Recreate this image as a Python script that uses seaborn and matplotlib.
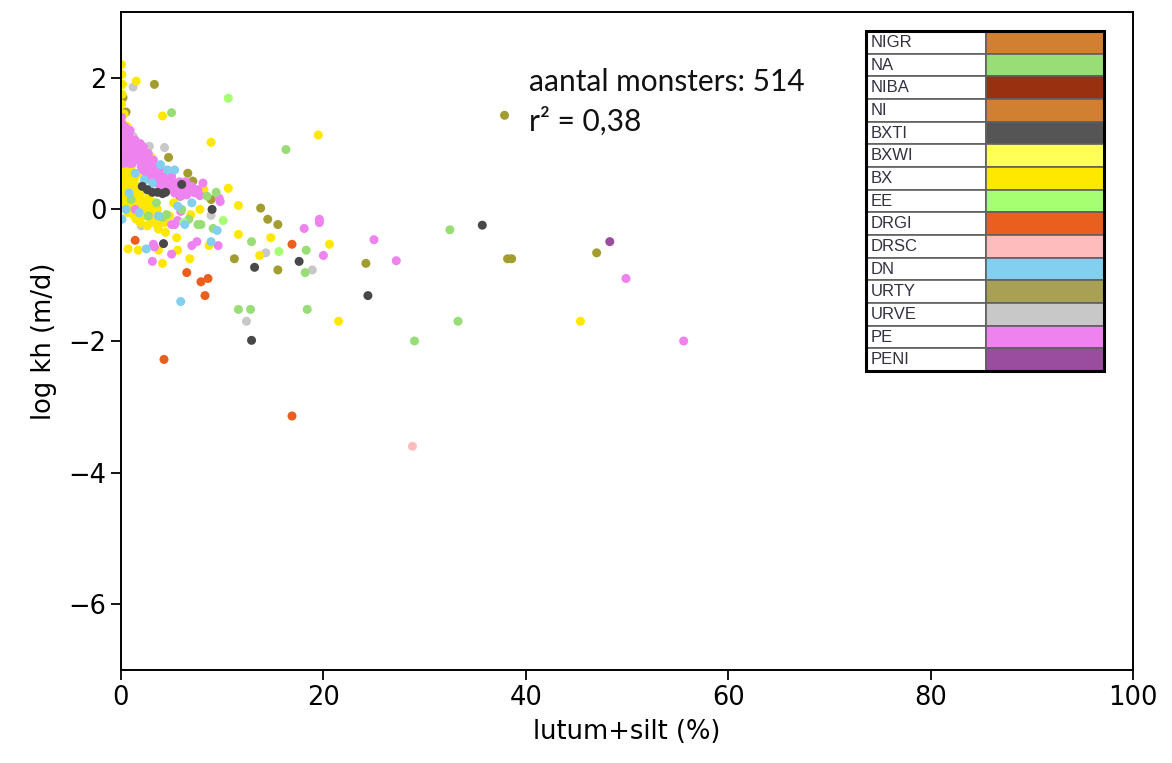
import matplotlib
matplotlib.use("Agg")
import matplotlib.pyplot as plt
import seaborn as sns
import pandas as pd
from matplotlib.patches import Rectangle

# ---------------- data ----------------
legend_names = ["NIGR", "NA", "NIBA", "NI", "BXTI", "BXWI", "BX", "EE",
                "DRGI", "DRSC", "DN", "URTY", "URVE", "PE", "PENI"]
legend_colors = ["#D08030", "#99DD77", "#993010", "#D08030", "#555555",
                 "#FFFF55", "#FFE800", "#A6FF70", "#EB5F1E", "#FFBCBC",
                 "#82CFEF", "#A8A055", "#C8C8C8", "#EE82EE", "#9A4C9E"]

bx_x = [0.05, 0.1, 0.15, 0.1, 0.05, 0.3, 0.6, 0.2, 0.1, 0.3, 0.2, 0.4, 0.1, 0.5, 0.2, 0.3, 0.6,
        1.5, 4.1, 8.9, 19.5, 3.0,
        0.8, 1.0, 1.3, 0.7, 1.1, 1.6, 1.9, 0.9, 1.4, 2.0, 2.4, 1.2, 1.7, 2.6, 3.0, 3.4, 2.2, 1.0,
        0.6, 3.6, 2.8, 2.3, 3.2, 3.9, 2.9, 1.5, 4.1, 5.2, 4.8,
        0.5, 0.8, 1.2, 1.5, 0.4, 0.8, 1.8, 2.5, 2.2, 2.8, 3.3, 1.3, 0.7, 1.9, 2.6, 3.6, 4.3, 3.1,
        0.3, 0.6, 1.0, 0.2, 0.4, 0.2, 1.4, 1.7, 2.4, 0.5, 0.4,
        0.7, 1.7, 3.7, 4.1, 5.6, 6.8, 8.7, 3.7, 4.4, 5.5, 6.9, 7.8, 8.2, 10.6, 11.6, 11.6, 13.7,
        14.8, 20.6, 21.5, 45.4]
bx_y = [2.2, 2.05, 1.9, 1.75, 1.6, 1.45, 1.26, 1.05, 0.9, 0.8, 0.65, 0.5, 0.4, 0.3, 0.2, 0.1, 0.0,
        1.95, 1.42, 1.02, 1.13, 0.79,
        0.6, 0.5, 0.45, 0.35, 0.3, 0.35, 0.25, 0.2, 0.15, 0.1, 0.05, 0.05, 0.0, -0.05, -0.1, -0.15, -0.1, -0.05,
        0.15, 0.0, 0.2, 0.3, 0.1, -0.12, -0.2, -0.15, 0.25, 0.1, -0.1,
        0.45, 0.4, 0.4, 0.25, 0.2, 0.1, 0.15, 0.15, 0.0, 0.05, -0.05, -0.1, -0.05, -0.2, -0.25, -0.25, -0.2, 0.0,
        0.55, 0.7, 0.65, 0.85, 1.0, 1.3, 0.5, 0.55, 0.45, 0.6, 0.35,
        -0.6, -0.62, -0.62, -0.82, -0.62, -0.75, -0.55, -0.3, -0.35, -0.43, -0.08, 0.0, 0.30, 0.32, 0.06, -0.38, -0.70,
        -0.43, -0.53, -1.70, -1.70]

urve_x = [1.2, 1.2, 2.8, 4.3, 0.5, 0.8, 8.9, 14.3, 18.9, 12.4, 2.0, 0.9, 1.6]
urve_y = [1.86, 1.11, 0.96, 0.94, 1.2, 1.15, -0.09, -0.66, -0.92, -1.70, -0.25, 0.45, 1.0]

urty_x = [0.2, 0.5, 3.3, 4.7, 6.6, 7.1, 8.9, 13.8, 14.5, 15.5, 11.2, 15.5, 24.2, 37.9, 38.2, 38.6,
          47.0, 0.4, 0.1, 0.5, 0.3, 5.8, 2.5]
urty_y = [1.7, 1.48, 1.9, 0.79, 0.55, 0.43, 0.15, 0.02, -0.15, -0.23, -0.75, -0.92, -0.82, 1.43, -0.75, -0.75,
          -0.66, 0.1, 0.05, 0.08, 0.3, 0.2, 0.0]

na_x = [5.0, 16.3, 9.4, 9.1, 7.9, 7.6, 4.1, 4.5, 12.9, 18.3, 18.2, 11.6, 12.8, 18.4, 32.5, 33.3, 29.0, 6.7, 3.5,
        1.0, 2.7, 6.0, 8.5]
na_y = [1.47, 0.91, 0.26, -0.29, -0.23, -0.23, -0.12, -0.08, -0.49, -0.62, -0.96, -1.52, -1.52, -1.52, -0.31,
        -1.70, -2.0, -0.15, 0.1, 0.15, -0.1, 0.0, 0.2]

ee_x = [10.6, 15.6, 10.1, 6.2]
ee_y = [1.69, -0.64, -0.17, -0.2]

dn_x = [0.1, 2.5, 5.9, 6.3, 9.5, 8.9, 3.9, 1.4, 2.3, 0.8, 1.8, 5.3, 7.0, 3.1, 4.6, 0.5, 3.7, 5.6]
dn_y = [-0.15, -0.6, -1.40, -0.23, -0.32, -0.49, 0.68, 0.55, 0.45, 0.25, -0.05, 0.6, 0.1, 0.4, 0.6, 0.0, -0.1, 0.05]

pe_x = [0.05, 0.1, 0.2, 0.05, 0.3, 0.1, 0.25, 0.05, 0.15, 0.3,
        0.5, 0.8, 1.0, 0.7, 1.3, 1.6, 1.2, 0.9, 1.8, 2.1, 1.5, 2.3, 2.6, 2.0, 2.8, 3.1, 2.5, 3.3, 3.6,
        3.0, 3.9, 4.2, 3.5, 4.5, 4.8, 4.0, 5.1, 5.4, 4.6, 5.7, 6.1, 5.3, 6.3, 5.9, 1.1,
        3.2, 2.7, 1.9, 8.1, 7.3, 6.7, 7.8,
        0.4, 0.6, 0.9, 1.1, 1.4, 0.6, 1.0, 1.4, 1.7, 2.0, 2.2, 2.5, 2.9, 2.2, 2.7, 3.0, 3.4, 3.8, 3.6,
        4.0, 4.3, 4.7, 5.0, 5.5, 6.0, 6.5, 7.0, 7.6, 0.8, 6.4, 5.8,
        1.4, 5.9, 5.6, 5.0, 5.3, 3.2, 3.3, 3.1, 5.0, 7.0, 7.5, 9.6, 9.7, 9.8, 18.1, 19.6, 19.6, 20.0,
        25.0, 27.2, 49.9, 55.6]
pe_y = [1.4, 1.3, 1.2, 1.15, 1.1, 1.0, 0.95, 0.85, 0.75, 0.7,
        1.15, 1.1, 1.0, 0.95, 0.95, 0.9, 0.85, 0.8, 0.8, 0.85, 0.75, 0.7, 0.75, 0.65, 0.6, 0.65, 0.55, 0.5, 0.55,
        0.45, 0.45, 0.5, 0.4, 0.4, 0.45, 0.35, 0.35, 0.4, 0.3, 0.3, 0.35, 0.25, 0.25, 0.2, 0.7,
        0.75, 0.85, 1.0, 0.4, 0.25, 0.3, 0.21,
        1.25, 1.05, 1.2, 1.05, 1.05, 0.85, 0.9, 0.8, 0.95, 0.75, 0.95, 0.85, 0.75, 0.6, 0.65, 0.55, 0.65, 0.6, 0.45,
        0.5, 0.4, 0.35, 0.5, 0.33, 0.28, 0.22, 0.35, 0.3, 0.7, 0.42, 0.42,
        0.0, -0.03, -0.17, -0.23, -0.23, -0.53, -0.57, -0.79, -0.68, -0.55, -0.49, -0.55, 0.17, 0.12, -0.29,
        -0.15, -0.2, -0.70, -0.46, -0.78, -1.05, -2.0]

bxti_x = [2.1, 2.6, 3.1, 3.6, 4.1, 4.4, 6.0, 9.0, 4.2, 13.2, 17.6, 24.4, 12.9, 35.7]
bxti_y = [0.35, 0.3, 0.26, 0.26, 0.24, 0.26, 0.38, 0.0, -0.52, -0.88, -0.79, -1.31, -1.99, -0.24]

drgi_x = [1.4, 6.5, 7.9, 8.6, 8.3, 4.25, 16.9, 16.9]
drgi_y = [-0.47, -0.96, -1.10, -1.05, -1.31, -2.28, -0.53, -3.14]

drsc_x = [28.8]
drsc_y = [-3.6]

peni_x = [48.3]
peni_y = [-0.49]

x_ticks = [0, 20, 40, 60, 80, 100]
y_ticks = [-6, -4, -2, 0, 2]

# ---------------- build table ----------------
groups = [("URVE", urve_x, urve_y), ("URTY", urty_x, urty_y), ("BX", bx_x, bx_y),
          ("PE", pe_x, pe_y), ("NA", na_x, na_y), ("EE", ee_x, ee_y), ("DN", dn_x, dn_y),
          ("BXTI", bxti_x, bxti_y), ("DRGI", drgi_x, drgi_y), ("DRSC", drsc_x, drsc_y),
          ("PENI", peni_x, peni_y)]
rows = []
for name, xs, ys in groups:
    for xv, yv in zip(xs, ys):
        rows.append({"klasse": name, "x": xv, "y": yv})
df = pd.DataFrame(rows)
palette = dict(zip(legend_names, legend_colors))
palette["URTY"] = "#A39D30"
palette["BXTI"] = "#484848"

# ---------------- plot ----------------
sns.set_style("ticks")
plt.rcParams["font.family"] = ["DejaVu Sans"]
plt.rcParams["text.color"] = "black"
plt.rcParams["axes.labelcolor"] = "black"
plt.rcParams["xtick.color"] = "black"
plt.rcParams["ytick.color"] = "black"

fig = plt.figure(figsize=(11.72, 7.63), dpi=100)
ax = fig.add_axes([121 / 1172, 1 - 670 / 763, 1012 / 1172, 658 / 763])

sns.scatterplot(data=df, x="x", y="y", hue="klasse", palette=palette,
                s=42, linewidth=0, edgecolor="none", legend=False, ax=ax, alpha=1.0)

ax.set_xlim(0, 100)
ax.set_ylim(-7, 3)
ax.set_xticks(x_ticks)
ax.set_yticks(y_ticks)
ax.tick_params(labelsize=18.5, length=7, width=1.3, color="black", labelcolor="black", direction="out")
for sp in ax.spines.values():
    sp.set_visible(True)
    sp.set_color("black")
    sp.set_linewidth(1.4)
ax.set_xlabel("lutum+silt (%)", fontsize=18.5, labelpad=6, color="black")
ax.set_ylabel("log kh (m/d)", fontsize=18.5, labelpad=8, color="black")
ax.grid(False)

# annotation
ax.text(0.403, 0.894, "aantal monsters: 514", transform=ax.transAxes, fontsize=21.5,
        family=["Lato", "DejaVu Sans"], va="center", ha="left", color="#111111")
ax.text(0.403, 0.834, "r² = 0,38", transform=ax.transAxes, fontsize=21.5,
        family=["Lato", "DejaVu Sans"], va="center", ha="left", color="#111111")

# legend as a table
bx0, by0, bw, bh = 0.736, 0.4544, 0.2353, 0.5166
cell_text = [[n, ""] for n in legend_names]
cell_cols = [["white", c] for c in legend_colors]
tab = ax.table(cellText=cell_text, cellColours=cell_cols, colWidths=[0.504, 0.496],
               bbox=[bx0, by0, bw, bh], cellLoc="left", zorder=5)
tab.auto_set_font_size(False)
tab.set_fontsize(12)
for (r, c), cell in tab.get_celld().items():
    cell.set_edgecolor("#606060")
    cell.set_linewidth(1.2)
    cell.PAD = 0.04
    cell.get_text().set_color("#333040")
    cell.get_text().set_family(["Liberation Sans", "DejaVu Sans"])
ax.add_patch(Rectangle((bx0, by0), bw, bh, transform=ax.transAxes, fill=False,
                       edgecolor="black", linewidth=2.2, zorder=6))

fig.savefig("out.png", dpi=100, facecolor="white")
